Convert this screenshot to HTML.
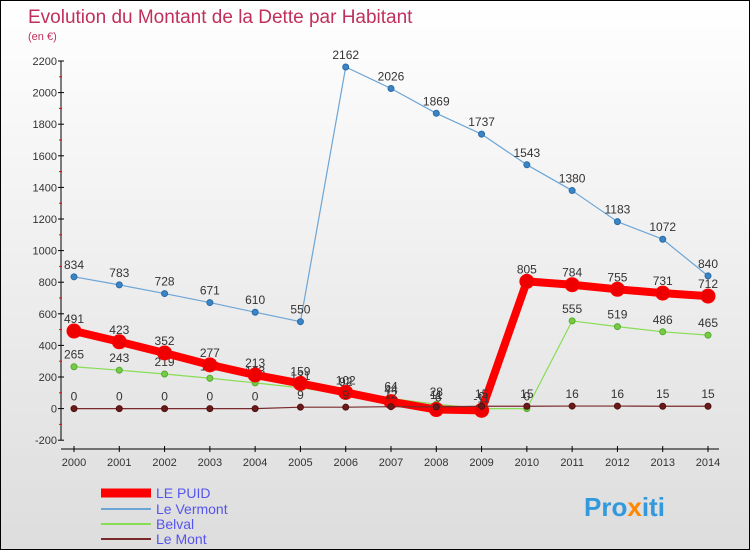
<!DOCTYPE html>
<html><head><meta charset="utf-8"><style>
body{margin:0;}
#wrap{width:750px;height:550px;position:relative;overflow:hidden;background:linear-gradient(#fff,#ddd);font-family:"Liberation Sans",sans-serif;box-sizing:border-box;border:1px solid #000;}
</style></head><body>
<div id="wrap">
<svg id="svg" width="750" height="550" xmlns="http://www.w3.org/2000/svg">
<text x="27" y="22" font-size="19" fill="#c0305c">Evolution du Montant de la Dette par Habitant</text>
<text x="27" y="39" font-size="11" fill="#c0305c">(en €)</text>
<g id="axes"></g><g id="series"></g>
<g>
<line x1="100" y1="492" x2="150" y2="492" stroke="#ff0000" stroke-width="9"/>
<text x="155" y="497" font-size="14" fill="#5555ee">LE PUID</text>
<line x1="100" y1="508" x2="150" y2="508" stroke="#6ca5d6" stroke-width="2"/>
<text x="155" y="513" font-size="14" fill="#5555ee">Le Vermont</text>
<line x1="100" y1="523" x2="150" y2="523" stroke="#88dd55" stroke-width="2"/>
<text x="155" y="528" font-size="14" fill="#5555ee">Belval</text>
<line x1="100" y1="538" x2="150" y2="538" stroke="#7a2a2a" stroke-width="2"/>
<text x="155" y="543" font-size="14" fill="#5555ee">Le Mont</text>
</g>
<text x="583" y="515" font-size="26" font-weight="bold" fill="#3399dd">Pro<tspan fill="#ff8800">x</tspan>iti</text>
</svg>
</div>
<script>
const years=[2000,2001,2002,2003,2004,2005,2006,2007,2008,2009,2010,2011,2012,2013,2014];
const yTicks=[-200,0,200,400,600,800,1000,1200,1400,1600,1800,2000,2200];
const lePuid=[491,423,352,277,213,159,102,44,-6,-11,805,784,755,731,712];
const leVermont=[834,783,728,671,610,550,2162,2026,1869,1737,1543,1380,1183,1072,840];
const belval=[265,243,219,192,163,131,92,64,28,0,0,555,519,486,465];
const leMont=[0,0,0,0,0,9,9,12,11,15,15,16,16,15,15];
const NS="http://www.w3.org/2000/svg";
const X=i=>73+i*(707-73)/14;
const Y=v=>407.6-v*(31.6/200);
function mk(tag,attrs,parent,text){const e=document.createElementNS(NS,tag);for(const k in attrs)e.setAttribute(k,attrs[k]);if(text!==undefined)e.textContent=text;parent.appendChild(e);return e;}
const ax=document.getElementById('axes');
let yl=mk('line',{x1:60,y1:Y(2200),x2:60,y2:Y(-200),stroke:'#000'},ax);


let xl=mk('line',{x1:60,y1:448,x2:718,y2:448,stroke:'#000'},ax);


yTicks.forEach((t,i)=>{
  mk('line',{x1:57,y1:Y(t),x2:63,y2:Y(t),stroke:'#000'},ax);
  if(i<yTicks.length-1)mk('line',{x1:58,y1:Y(t+100),x2:61,y2:Y(t+100),stroke:'#f00'},ax);
  const tx=mk('text',{x:56,y:Y(t)+4,'font-size':11,fill:'#333','text-anchor':'end'},ax,String(t));
  
  
});
years.forEach((yr,i)=>{
  mk('line',{x1:X(i),y1:445,x2:X(i),y2:451,stroke:'#000'},ax);
  const tx=mk('text',{x:X(i),y:465,'font-size':11,fill:'#333','text-anchor':'middle'},ax,String(yr));
  
  
});
const sg=document.getElementById('series');
function series(vals,name,color,w,r,ptFill,ptStroke){
  const g=mk('g',{},sg);
  
  
  mk('polyline',{points:vals.map((v,i)=>X(i)+','+Y(v)).join(' '),fill:'none',stroke:color,'stroke-width':w,'stroke-linejoin':'round'},g);
  vals.forEach((v,i)=>{
    const c=mk('circle',{cx:X(i),cy:Y(v),r:r,fill:ptFill,stroke:ptStroke,'stroke-width':1},g);
    
    
    const t=mk('text',{x:X(i),y:Y(v)-8,'font-size':12,fill:'#333','text-anchor':'middle'},g,String(v));
    
    
  });
}
series(leVermont,'le-vermont','#6ca5d6',1.2,3,'#3a85c5','#2a6aa5');
series(belval,'belval','#88dd55',1.2,3,'#77cc44','#55aa33');
series(lePuid,'le-puid','#ff0000',8,7,'#ee0000','#ff0000');
series(leMont,'le-mont','#7a2a2a',1.2,3,'#6a1a1a','#501010');
</script>
</body></html>
